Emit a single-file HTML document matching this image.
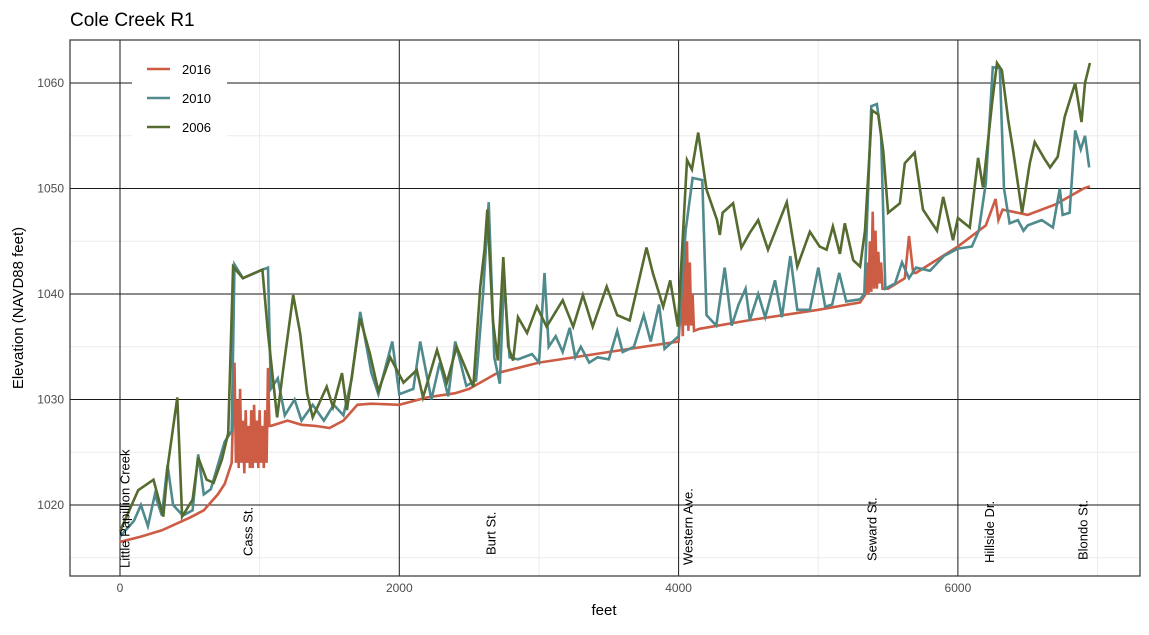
<!DOCTYPE html>
<html><head><meta charset="utf-8"><style>
body{margin:0;background:#fff;font-family:"Liberation Sans",sans-serif}
svg text{font-family:"Liberation Sans",sans-serif}
</style></head><body>
<svg id="chart" width="1149" height="630" xmlns="http://www.w3.org/2000/svg">
<text x="70" y="26" font-size="19" fill="#000">Cole Creek R1</text>
<g id="grid"></g><g id="series"></g><g id="labels"></g>
<rect x="70" y="40" width="1070" height="536" fill="none" stroke="#333" stroke-width="1.2"/>
<g id="axes"></g>
<text x="604" y="615" font-size="15" text-anchor="middle">feet</text>
<text transform="translate(23,308) rotate(-90)" font-size="15" text-anchor="middle">Elevation (NAVD88 feet)</text>
<g>
<rect x="132" y="45" width="95" height="100" fill="#fff"/>
<line x1="147" y1="69" x2="170" y2="69" stroke="#cd5c45" stroke-width="2.5"/>
<text x="182" y="74" font-size="13">2016</text>
<line x1="147" y1="98" x2="170" y2="98" stroke="#4f8a8c" stroke-width="2.5"/>
<text x="182" y="103" font-size="13">2010</text>
<line x1="147" y1="127" x2="170" y2="127" stroke="#556b2f" stroke-width="2.5"/>
<text x="182" y="132" font-size="13">2006</text>
</g>
</svg>
<script>
const xTicks=[0,2000,4000,6000];
const xMinor=[1000,3000,5000,7000];
const yTicks=[1020,1030,1040,1050,1060];
const yMinor=[1015,1025,1035,1045,1055];
const streetNames=["Little Papillion Creek","Cass St.","Burt St.","Western Ave.","Seward St.","Hillside Dr.","Blondo St."];
const streetFeet=[40,920,2660,4070,5390,6230,6900];
const streetBottom=[568,556,555,565,561,563,560];

const x2016=[0,150,300,450,500,600,700,750,800,820,830,840,850,860,870,880,890,900,910,920,930,940,950,960,970,980,990,1000,1010,1020,1030,1040,1050,1060,1070,1080,1200,1300,1400,1500,1600,1700,1800,2000,2200,2400,2500,2700,3000,3500,4000,4020,4030,4040,4050,4060,4070,4080,4090,4100,4110,4150,4500,5000,5300,5340,5350,5360,5370,5380,5390,5400,5410,5420,5430,5440,5450,5460,5500,5620,5650,5680,5700,6000,6200,6270,6290,6320,6500,6700,6900,6945];
const y2016=[1016.5,1017,1017.6,1018.5,1018.8,1019.5,1021,1022,1024,1033.5,1024,1030,1023.5,1031,1024,1028,1023,1029,1024,1027.5,1023.5,1029,1023.5,1029.5,1024,1028,1023.5,1029,1024,1027.5,1023.5,1029,1024,1033,1027.5,1027.5,1028,1027.6,1027.5,1027.3,1028,1029.5,1029.6,1029.5,1030.2,1030.6,1031,1032.5,1033.5,1034.5,1035.5,1040,1036,1046.5,1037,1045,1036.5,1043,1037,1040,1036.5,1036.7,1037.5,1038.5,1039.2,1040,1043,1040,1045,1040.2,1047.8,1040.5,1046,1040.5,1044,1041,1043,1040.5,1040.5,1041.5,1045.5,1042,1042,1044.5,1046.5,1049,1047,1048,1047.5,1048.5,1050,1050.2];

const x2010=[0,100,150,200,250,300,340,380,450,520,560,600,650,750,800,820,880,1000,1060,1080,1130,1180,1250,1300,1380,1460,1530,1600,1660,1720,1800,1850,1900,1950,2000,2100,2150,2230,2290,2350,2400,2480,2550,2600,2640,2680,2720,2750,2790,2850,2950,3000,3040,3070,3120,3170,3220,3260,3300,3360,3420,3500,3560,3600,3680,3750,3800,3860,3900,4000,4050,4100,4170,4200,4270,4330,4380,4430,4480,4510,4570,4620,4690,4740,4800,4850,4940,5000,5050,5100,5150,5200,5300,5330,5380,5420,5450,5480,5550,5600,5650,5700,5800,5900,6000,6100,6150,6200,6250,6300,6330,6370,6430,6470,6500,6600,6680,6730,6750,6800,6840,6880,6910,6940];
const y2010=[1017,1018.5,1020,1018,1021,1019,1023.8,1020,1019,1019.5,1024.8,1021,1021.5,1026,1027,1042.8,1041.5,1042.2,1042.5,1031,1032,1028.5,1030,1028,1029.5,1028,1029.5,1028.5,1032,1038.3,1032.5,1030.5,1033,1035.5,1030.5,1031,1035.5,1030,1033.5,1030.3,1035.5,1031.3,1031.8,1040,1048.7,1034,1031.5,1041.5,1034,1033.8,1034.3,1033.5,1042,1035,1036,1034.5,1036.8,1034,1035,1033.5,1034,1033.8,1036.5,1034.5,1035,1038,1035.5,1039,1034.8,1036,1046,1051,1050.8,1038,1037,1042.5,1037,1039,1040.5,1037.5,1040,1037.8,1041.3,1037.8,1043.6,1038.5,1038.5,1042.5,1038.8,1039,1042,1039.3,1039.5,1040,1057.8,1058,1055,1040.5,1041,1043,1041.5,1042.5,1042.2,1043.6,1044.3,1044.5,1046,1050.5,1061.5,1061.4,1050,1046.7,1047,1046,1046.5,1047,1046.3,1050,1047.5,1047.7,1055.5,1053.7,1055,1052];

const x2006=[0,130,240,310,345,410,445,520,560,620,670,730,775,810,880,1020,1060,1125,1170,1240,1290,1340,1380,1480,1525,1590,1625,1720,1790,1850,1935,2030,2125,2170,2270,2340,2410,2530,2580,2610,2630,2670,2705,2745,2780,2815,2850,2915,2985,3055,3170,3245,3315,3385,3485,3560,3650,3770,3815,3890,3940,3995,4060,4095,4140,4200,4275,4295,4315,4390,4450,4510,4570,4640,4775,4850,4940,5010,5060,5105,5155,5190,5250,5300,5335,5385,5430,5465,5500,5585,5620,5690,5750,5850,5895,5965,6000,6085,6145,6180,6245,6280,6315,6360,6395,6460,6515,6550,6625,6660,6715,6765,6840,6885,6910,6945];
const y2006=[1017.5,1021.4,1022.4,1018.9,1024,1030.2,1018.9,1020.5,1024.5,1022.4,1022.1,1024.3,1026.8,1042.6,1041.5,1042.3,1036.3,1028.3,1033,1039.9,1036.3,1030.6,1028.3,1031.2,1029.3,1032.5,1029,1037.7,1034.3,1030.8,1034,1031.6,1032.8,1030.2,1034.7,1031.6,1035,1031.2,1040.7,1044.2,1048,1037.5,1033.7,1043.5,1035,1033.7,1037.8,1036.3,1038.8,1036.9,1039.4,1036.9,1039.9,1036.9,1040.7,1038,1037.5,1044.4,1042,1038.8,1041.3,1036.9,1052.7,1051.8,1055.3,1049.9,1047,1045.6,1047.7,1048.6,1044.4,1045.8,1047,1044.2,1048.7,1042.6,1045.9,1044.5,1044.2,1046.4,1043.8,1046.7,1043.2,1042.6,1046,1057.4,1057,1053.6,1047.7,1048.6,1052.4,1053.4,1048,1046,1049.2,1045.1,1047.2,1046.3,1052.9,1050.1,1058.1,1061.9,1061.2,1056.5,1053.6,1047.7,1052.4,1054.4,1052.7,1052,1053,1056.8,1060,1056.3,1060,1061.9];

const X=f=>120+f*0.13965;
const Y=v=>505-(v-1020)*10.55;
const NS="http://www.w3.org/2000/svg";
function mk(tag,attrs,parent){const e=document.createElementNS(NS,tag);for(const k in attrs)e.setAttribute(k,attrs[k]);parent.appendChild(e);return e;}
const grid=document.getElementById('grid'),axes=document.getElementById('axes'),series=document.getElementById('series'),labels=document.getElementById('labels');
xMinor.forEach(f=>{const l=mk('line',{x1:X(f),x2:X(f),y1:40,y2:576,stroke:'#ebebeb','stroke-width':1},grid);

});
yMinor.forEach(v=>{const l=mk('line',{x1:70,x2:1140,y1:Y(v),y2:Y(v),stroke:'#ebebeb','stroke-width':1},grid);

});
xTicks.forEach(f=>{const l=mk('line',{x1:X(f),x2:X(f),y1:40,y2:576,stroke:'#1a1a1a','stroke-width':1},grid);


const t=mk('text',{x:X(f),y:592,'font-size':12,fill:'#4d4d4d','text-anchor':'middle'},axes);t.textContent=f;

});
yTicks.forEach(v=>{const l=mk('line',{x1:70,x2:1140,y1:Y(v),y2:Y(v),stroke:'#1a1a1a','stroke-width':1},grid);


const t=mk('text',{x:64,y:Y(v)+4,'font-size':12,fill:'#4d4d4d','text-anchor':'end'},axes);t.textContent=v;

});
function line(xs,ys,color,name){const d=xs.map((f,i)=>(i?'L':'M')+X(f).toFixed(1)+','+Y(ys[i]).toFixed(1)).join('');
const p=mk('path',{d:d,fill:'none',stroke:color,'stroke-width':2.6,'stroke-linejoin':'miter'},series);

}
line(x2016,y2016,'#cd5c45','line-2016');
line(x2010,y2010,'#4f8a8c','line-2010');
line(x2006,y2006,'#556b2f','line-2006');
streetNames.forEach((n,i)=>{const x=X(streetFeet[i])+4,y=streetBottom[i];
const t=mk('text',{transform:`translate(${x},${y}) rotate(-90)`,'font-size':13,fill:'#000'},labels);t.textContent=n;

});
</script>
</body></html>
